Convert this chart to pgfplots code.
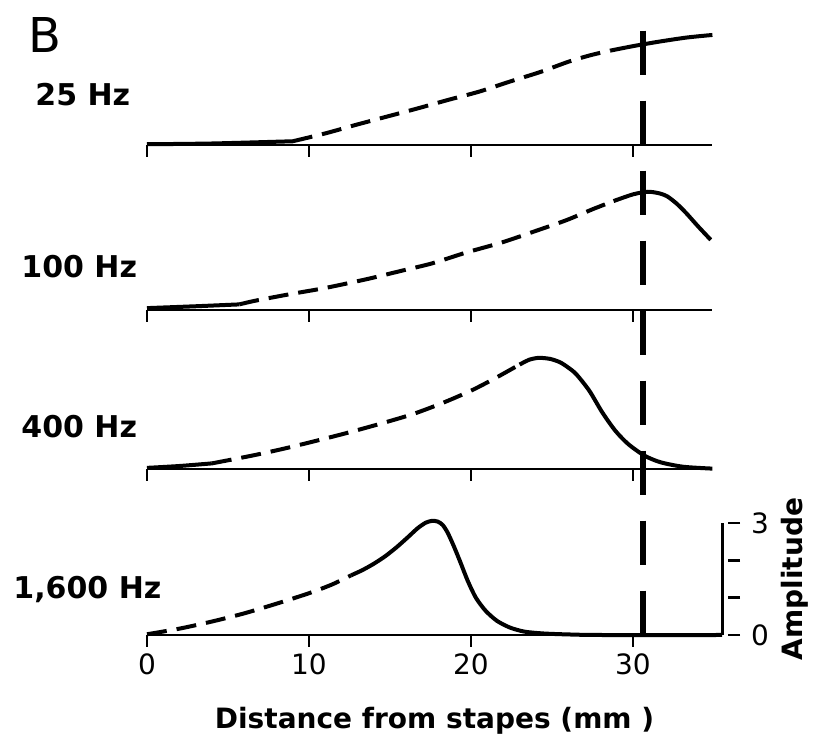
\documentclass[border=0pt]{standalone}
\usepackage{fontspec}
\setmainfont{DejaVu Sans}
\usepackage{pgfplots}
\pgfplotsset{compat=1.18}

\pgfplotsset{
  panel/.style={
    x=8.1pt, y=18.65pt,
    xmin=0, xmax=34.9, ymin=0, ymax=3,
    axis x line=bottom,
    axis line style={-, line width=1.4pt},
    clip=false,
    xtick={0,10,20,30}, xticklabels={},
    tick align=outside,
    major tick length=6pt,
    every tick/.style={line width=1.2pt, black},
    /pgf/number format/assume math mode=true,
    ticklabel style={font=\fontsize{14}{16}\selectfont},
    label style={font=\bfseries\fontsize{14}{16}\selectfont},
  },
  toppanel/.style={axis y line=none, ytick=\empty},
  cur/.style={line width=2pt, black, smooth, tension=0.45},
  dsh/.style={cur, dash pattern=on 10pt off 5pt},
}
\tikzset{lab/.style={anchor=west, inner sep=0, font=\bfseries\fontsize{15}{17}\selectfont}}

\begin{document}
\begin{tikzpicture}
\useasboundingbox (-73.5pt,-56.5pt) rectangle (336pt,317.5pt);

% 25 Hz
\begin{axis}[panel, toppanel, at={(0pt,245pt)}]
\addplot[cur] coordinates {(0,0.02) (4,0.04) (9,0.1)};
\addplot[dsh] coordinates {(9,0.1) (11.0,0.31) (12.9,0.54) (14.8,0.76) (16.7,0.98) (18.6,1.21) (20.5,1.43) (22.4,1.70) (24.3,1.96) (26.0,2.23) (27.4,2.41) (28.6,2.53)};
\addplot[cur] coordinates {(28.6,2.53) (30.0,2.65) (31.6,2.77) (33.3,2.88) (34.9,2.95)};
\end{axis}

% 100 Hz
\begin{axis}[panel, toppanel, at={(0pt,162.5pt)}]
\addplot[cur] coordinates {(0,0.05) (3,0.1) (5.7,0.15)};
\addplot[dsh] coordinates {(5.7,0.15) (6.7,0.25) (8.9,0.43) (11.0,0.59) (13.6,0.83) (15.7,1.05) (17.6,1.25) (19.7,1.54) (21.9,1.81) (24.0,2.12) (25.9,2.41) (27.5,2.70) (28.8,2.92)};
\addplot[cur] coordinates {(28.8,2.92) (30.0,3.10) (30.9,3.17) (31.6,3.13) (32.1,3.05) (32.7,2.85) (33.3,2.59) (34.0,2.25) (34.8,1.88)};
\end{axis}

% 400 Hz
\begin{axis}[panel, toppanel, at={(0pt,83pt)}]
\addplot[cur] coordinates {(0,0.03) (2,0.08) (4.0,0.15)};
\addplot[dsh] coordinates {(4.0,0.15) (6.5,0.36) (8.4,0.54) (10.3,0.74) (12.2,0.95) (14.3,1.20) (16.4,1.47) (18.3,1.78) (20.1,2.12) (21.6,2.46) (23.0,2.80)};
\addplot[cur] coordinates {(23.0,2.80) (23.6,2.93) (24.2,2.98) (24.9,2.95) (25.5,2.86) (26.0,2.72) (26.5,2.54) (27.3,2.10) (28.1,1.52) (28.9,1.03) (29.7,0.67) (30.7,0.36) (31.7,0.18) (33.1,0.06) (34.9,0.01)};
\end{axis}

% 1600 Hz
\begin{axis}[panel, at={(0pt,0pt)}, xmax=35.5,
  xticklabels={0,10,20,30},
  xlabel={Distance from stapes (mm )},
  xlabel style={yshift=-9pt},
  axis y line=right,
  axis line style={-, line width=1.4pt},
  y axis line style={-},
  ytick={0,1,2,3}, yticklabels={0,,,3},
  ytick align=outside,
  ytick style={xshift=3pt},
  yticklabel style={xshift=5pt},
  ylabel={Amplitude},
  ylabel style={at={(axis description cs:1.127,0.5)}, anchor=center, font=\bfseries\fontsize{14}{16}\selectfont},
  ]
\addplot[dsh] coordinates {(0,0.02) (2,0.17) (4,0.36) (6,0.58) (8,0.84) (10,1.12) (11.4,1.35) (12.6,1.60)};
\addplot[cur] coordinates {(12.6,1.60) (13.3,1.74) (14.0,1.91) (14.7,2.11) (15.4,2.35) (16.1,2.62) (16.7,2.86) (17.2,3.01) (17.6,3.06) (17.95,3.04) (18.25,2.95) (18.55,2.75) (18.9,2.42) (19.3,2.00) (19.8,1.45) (20.3,1.00) (20.9,0.65) (21.6,0.38) (22.4,0.20) (23.3,0.09) (24.5,0.04) (26,0.015) (28,0.0) (35.5,0.0)};
\addplot[black, line width=3pt, dash pattern=on 22pt off 13pt] coordinates {(30.6,16.2) (30.6,-0.35)};
\end{axis}

\node[font=\fontsize{24}{26}\selectfont, inner sep=0] at (-51pt,300pt) {B};
\node[lab] at (-56pt,270pt) {25 Hz};
\node[lab] at (-63pt,184pt) {100 Hz};
\node[lab] at (-63pt,104pt) {400 Hz};
\node[lab] at (-67pt,22.5pt) {1,600 Hz};
\end{tikzpicture}
\end{document}
